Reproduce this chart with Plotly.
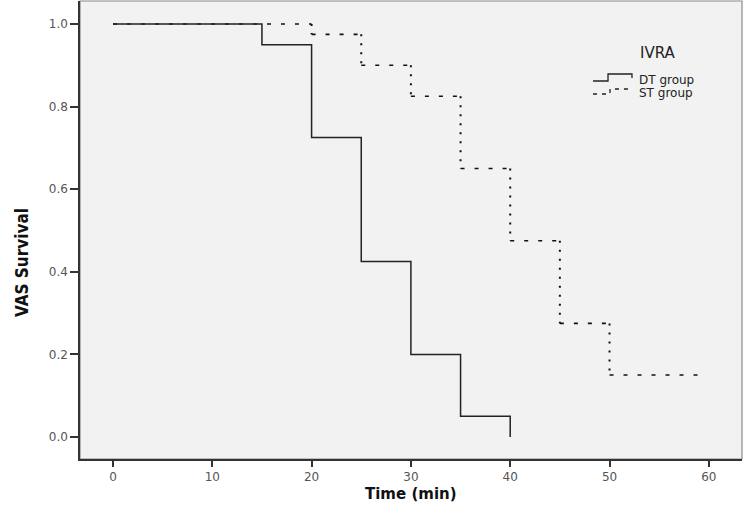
"""Kaplan-Meier style step chart: VAS survival by IVRA group."""
import plotly.graph_objects as go

# step data (time in min, survival proportion)
dt_time = [0, 15, 20, 25, 30, 35, 40]
dt_surv = [1.0, 0.95, 0.725, 0.425, 0.2, 0.05, 0.0]

st_time = [0, 20, 25, 30, 35, 40, 45, 50, 59.3]
st_surv = [1.0, 0.975, 0.9, 0.825, 0.65, 0.475, 0.275, 0.15, 0.15]

x_ticks = [0, 10, 20, 30, 40, 50, 60]
y_ticks = [0.0, 0.2, 0.4, 0.6, 0.8, 1.0]

W, H = 743, 509
M = dict(l=80, r=1, t=1, b=50)
PW = W - M['l'] - M['r']
PH = H - M['t'] - M['b']


def px(x, y):
    """Pixel position -> paper coordinates."""
    return (x - M['l']) / PW, (H - M['b'] - y) / PH


def split_steps(t, s):
    """Return separate horizontal and vertical segment paths for a step curve."""
    hx, hy, vx, vy = [], [], [], []
    for i in range(len(t) - 1):
        hx += [t[i], t[i + 1], None]
        hy += [s[i], s[i], None]
        if s[i + 1] != s[i]:
            vx += [t[i + 1], t[i + 1], None]
            vy += [s[i], s[i + 1], None]
    return hx, hy, vx, vy


fig = go.Figure()

# ST group: dashed horizontals, dotted verticals (as SPSS renders it)
hx, hy, vx, vy = split_steps(st_time, st_surv)
fig.add_trace(go.Scatter(x=hx, y=hy, mode='lines', name='ST group',
                         line=dict(color='#111111', width=1.6, dash='4px,10px'),
                         hoverinfo='skip'))
fig.add_trace(go.Scatter(x=vx, y=vy, mode='lines', name='ST group',
                         line=dict(color='#111111', width=2, dash='2px,7px'),
                         hoverinfo='skip'))

# DT group: solid step line
fig.add_trace(go.Scatter(x=dt_time, y=dt_surv, mode='lines', name='DT group',
                         line=dict(color='#222222', width=1.5, shape='hv')))

shapes = [dict(type='rect', xref='paper', yref='paper', x0=0, x1=1, y0=0, y1=1,
               line=dict(color='#8a8a8a', width=1.2), layer='below')]


def path(points):
    pts = [px(*p) for p in points]
    return 'M ' + ' L '.join(f'{a:.4f},{b:.4f}' for a, b in pts)


# hand-drawn legend symbols
shapes.append(dict(type='path', xref='paper', yref='paper',
                   path=path([(593, 81), (608, 81), (608, 74), (632, 74), (632, 78)]),
                   line=dict(color='#222222', width=1.3)))
shapes.append(dict(type='path', xref='paper', yref='paper',
                   path=path([(593, 94), (610, 94), (610, 89), (632, 89)]),
                   line=dict(color='#222222', width=1.3, dash='4px,5px')))

legend_font = dict(family='DejaVu Sans', size=12, color='#222222')
annotations = []
for text, (x, y), anchor, size in [('IVRA', (658, 53), 'center', 15),
                                   ('DT group', (637, 80), 'left', 12),
                                   ('ST group', (637, 93), 'left', 12)]:
    ax, ay = px(x, y)
    annotations.append(dict(text=text, x=ax, y=ay, xref='paper', yref='paper',
                            xanchor=anchor, yanchor='middle', showarrow=False,
                            font=dict(legend_font, size=size)))

# axis titles
tx, ty = px(411, 494)
annotations.append(dict(text='<b>Time (min)</b>', x=tx, y=ty, xref='paper', yref='paper',
                        showarrow=False, xanchor='center', yanchor='middle',
                        font=dict(family='DejaVu Sans', size=15, color='#111111')))
vx_, vy_ = px(22, 262)
annotations.append(dict(text='<b>VAS Survival</b>', x=vx_, y=vy_, xref='paper', yref='paper',
                        showarrow=False, textangle=-90, xanchor='center', yanchor='middle',
                        font=dict(family='Liberation Sans Narrow, DejaVu Sans Condensed, sans-serif',
                                  size=17, color='#111111')))

tick_font = dict(family='DejaVu Sans', size=12, color='#555555')

fig.update_layout(
    width=W, height=H,
    margin=dict(l=M['l'], r=M['r'], t=M['t'], b=M['b'], pad=0),
    paper_bgcolor='white',
    plot_bgcolor='#f2f2f2',
    showlegend=False,
    shapes=shapes,
    annotations=annotations,
    xaxis=dict(range=[-3.32, 63.34], tickvals=x_ticks, ticktext=[str(v) for v in x_ticks],
               ticks='outside', ticklen=6, tickwidth=1.5, tickcolor='#333333',
               showline=True, linecolor='#333333', linewidth=1.5,
               showgrid=False, zeroline=False, tickfont=tick_font),
    yaxis=dict(range=[-0.0533, 1.0557], tickvals=y_ticks, ticktext=[f'{v:.1f}' for v in y_ticks],
               ticks='outside', ticklen=8, tickwidth=1.5, tickcolor='#333333',
               showline=True, linecolor='#333333', linewidth=1.5,
               showgrid=False, zeroline=False, tickfont=tick_font),
)

# drop the default 8px page margin so the figure sits at the window's corner
fig.write_html("out.html", config={'displayModeBar': False},
               post_script="document.body.style.margin = '0';")
